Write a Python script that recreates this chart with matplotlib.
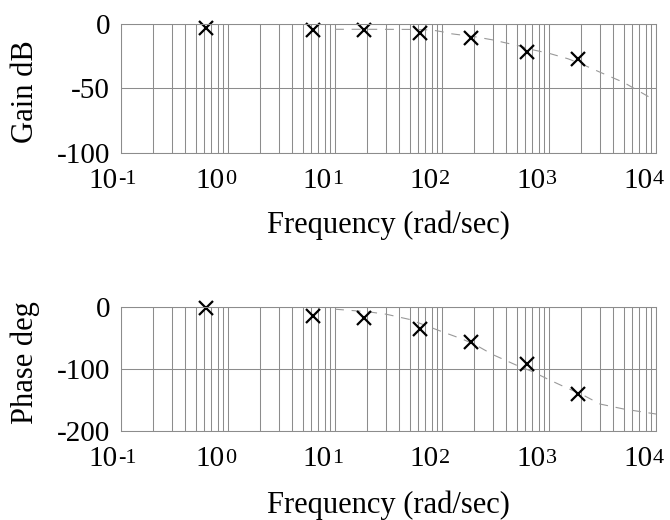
#Importing Libraries
import numpy as np
import matplotlib.pyplot as plt
from matplotlib.ticker import NullFormatter

plt.rcParams['font.family'] = ['Liberation Serif', 'DejaVu Serif']

# measured points (x markers)
freq_pts = [0.628, 6.28, 18.85, 62.8, 188.5, 628, 1885]
gain_pts = [-3.1, -4.5, -4.4, -7.0, -10.6, -21.4, -27.5]
phase_pts = [-2.5, -14.6, -17.8, -35.6, -57.3, -92.5, -140]

# model response (dashed line)
curve_freq_gain = [10, 20, 50, 80, 100, 120, 200, 300, 400, 500, 700, 1000, 1500, 2000, 3000, 5000, 8500]
gain_curve = [-4.1, -4.1, -4.2, -4.6, -6.0, -7.5, -9.8, -12.4, -14.8, -16.5, -20.0, -22.8, -27.0, -31.0, -37.5, -45.5, -56.5]
curve_freq_phase = [10, 20, 30, 50, 70, 100, 150, 200, 300, 500, 700, 1000, 1500, 2000, 3000, 5000, 10000]
phase_curve = [-4, -8, -12, -20.5, -30, -40, -51, -60, -77, -94, -104, -117, -131, -140, -156, -164, -172]

decades = [-1, 0, 1, 2, 3, 4]
gain_ticks = [0, -50, -100]
phase_ticks = [0, -100, -200]

grid_col = '#8c8c8c'
fs = 22


def setup(ax, ticks, ylabel, label_y, xlabel_y):
    ax.set_xscale('log')
    ax.set_xlim(10.0 ** decades[0], 10.0 ** decades[-1])
    ax.set_ylim(ticks[-1], ticks[0])
    ax.set_yticks(ticks)
    ax.set_yticklabels([str(t) for t in ticks], fontsize=21)
    ax.set_xticks([10.0 ** d for d in decades])
    ax.set_xticklabels([])
    ax.xaxis.set_minor_formatter(NullFormatter())
    ax.tick_params(which='both', length=0)
    ax.tick_params(axis='y', pad=8)
    ax.grid(True, which='both', axis='x', color=grid_col, lw=0.75)
    ax.grid(True, which='major', axis='y', color=grid_col, lw=0.75)
    for s in ax.spines.values():
        s.set_color(grid_col)
        s.set_linewidth(0.75)
    # decade labels: "10" plus a small raised exponent
    for d in decades:
        ax.annotate('10', xy=(10.0 ** d, 0), xycoords=('data', 'axes fraction'),
                    xytext=(-2.2, -25.2), textcoords='offset points',
                    ha='right', va='baseline', fontsize=21)
        ax.annotate(str(d), xy=(10.0 ** d, 0), xycoords=('data', 'axes fraction'),
                    xytext=(-2.4, -23.0), textcoords='offset points',
                    ha='left', va='baseline', fontsize=16)
    ax.set_ylabel(ylabel, fontsize=fs)
    ax.yaxis.set_label_coords(-0.151, label_y)
    ax.set_xlabel('Frequency (rad/sec)', fontsize=fs)
    ax.xaxis.label.set_va('baseline')
    ax.xaxis.set_label_coords(0.5, xlabel_y)


fig = plt.figure(figsize=(6.7, 5.2), dpi=100)
ax1 = fig.add_axes([0.1806, 0.7067, 0.7985, 0.2471])
ax2 = fig.add_axes([0.1806, 0.1702, 0.7985, 0.2400])

setup(ax1, gain_ticks, 'Gain dB', 0.47, -0.63)
setup(ax2, phase_ticks, 'Phase deg', 0.55, -0.65)

ax1.plot(curve_freq_gain, gain_curve, color='#999999', lw=0.8, dashes=(8, 7))
ax1.plot(freq_pts, gain_pts, 'x', color='black', ms=9.5, mew=1.6, clip_on=False)

ax2.plot(curve_freq_phase, phase_curve, color='#999999', lw=0.8, dashes=(8, 7))
ax2.plot(freq_pts, phase_pts, 'x', color='black', ms=9.5, mew=1.6, clip_on=False)

plt.savefig('out.png', dpi=100)
